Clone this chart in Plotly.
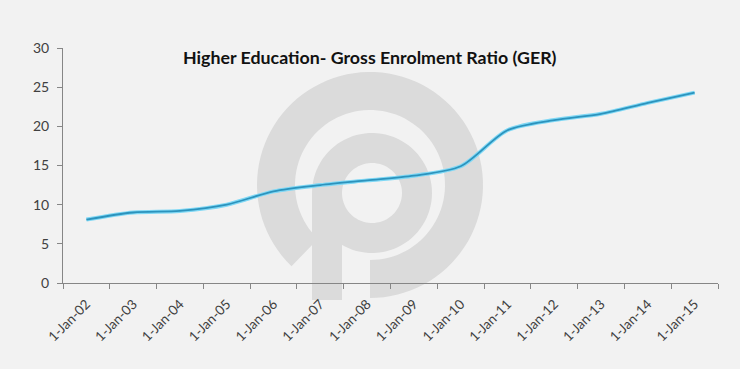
import numpy as np
import plotly.graph_objects as go

categories = ["1-Jan-02", "1-Jan-03", "1-Jan-04", "1-Jan-05", "1-Jan-06", "1-Jan-07",
              "1-Jan-08", "1-Jan-09", "1-Jan-10", "1-Jan-11", "1-Jan-12", "1-Jan-13",
              "1-Jan-14", "1-Jan-15"]
ger_values = [8.1, 9.0, 9.2, 10.0, 11.7, 12.5, 13.1, 13.7, 14.9, 19.5, 20.8, 21.6, 23.0, 24.3]
y_ticks = [0, 5, 10, 15, 20, 25, 30]

W, H = 740, 369
L, R, T, B = 63, 22, 48, 86
PW, PH = W - L - R, H - T - B

def to_paper(x, y):
    return (x - L) / PW, (H - B - y) / PH

def arc(cx, cy, r, a0, a1, n=90):
    a = np.radians(np.linspace(a0, a1, n))
    return [(cx + r * np.cos(t), cy - r * np.sin(t)) for t in a]

def path_from(pts):
    s = ""
    for i, (x, y) in enumerate(pts):
        px, py = to_paper(x, y)
        s += ("M" if i == 0 else "L") + f"{px:.5f},{py:.5f} "
    return s + "Z "

wm = "#dbdbdb"
shapes = []
ring = arc(370, 185, 113, -90, 226) + arc(370, 185, 75, 226, -90)
shapes.append(dict(type="path", path=path_from(ring), xref="paper", yref="paper",
                   fillcolor=wm, line=dict(width=0), layer="below"))
bowl = path_from(arc(372, 193, 60, 0, 360)) + path_from(arc(372, 193, 30, 360, 0))
shapes.append(dict(type="path", path=bowl, xref="paper", yref="paper",
                   fillcolor=wm, line=dict(width=0), layer="below"))
stem = [(312, 193), (342, 193), (342, 300), (312, 300)]
shapes.append(dict(type="path", path=path_from(stem), xref="paper", yref="paper",
                   fillcolor=wm, line=dict(width=0), layer="below"))

tx, ty = to_paper(370, 57)

fig = go.Figure()
fig.add_trace(go.Scatter(x=categories, y=ger_values, mode="lines",
                         line=dict(color="#7fd8f5", width=4, shape="spline", smoothing=0.8),
                         hoverinfo="skip", showlegend=False))
fig.add_trace(go.Scatter(x=categories, y=ger_values, mode="lines",
                         line=dict(color="#2c93bd", width=1.8, shape="spline", smoothing=0.8),
                         showlegend=False))

fig.update_layout(
    width=W, height=H,
    margin=dict(l=L, r=R, t=T, b=B),
    paper_bgcolor="#f2f2f2", plot_bgcolor="#f2f2f2",
    shapes=shapes,
    font=dict(family="Lato, Open Sans, sans-serif", color="#404040", size=13),
    annotations=[dict(text="<b>Higher Education- Gross Enrolment Ratio (GER)</b>",
                      x=tx, y=ty, xref="paper", yref="paper",
                      xanchor="center", yanchor="middle", showarrow=False,
                      font=dict(family="Lato, Open Sans, sans-serif", size=17.8, color="#111111"))],
    xaxis=dict(type="category", range=[-0.5, 13.5], tickson="boundaries",
               ticks="outside", ticklen=5, tickcolor="#868686", tickangle=-45,
               ticklabelstandoff=7,
               showline=True, linecolor="#868686", linewidth=1, showgrid=False,
               zeroline=False, tickfont=dict(size=13.5, color="#404040")),
    yaxis=dict(range=[0, 30], tickvals=y_ticks, ticks="outside", ticklen=5,
               ticklabelstandoff=5,
               tickcolor="#868686", showline=True, linecolor="#868686", linewidth=1,
               showgrid=False, zeroline=False, tickfont=dict(size=14, color="#404040")),
)

fig.write_html("out.html", config={"displayModeBar": False},
               post_script="document.body.style.margin='0';")
